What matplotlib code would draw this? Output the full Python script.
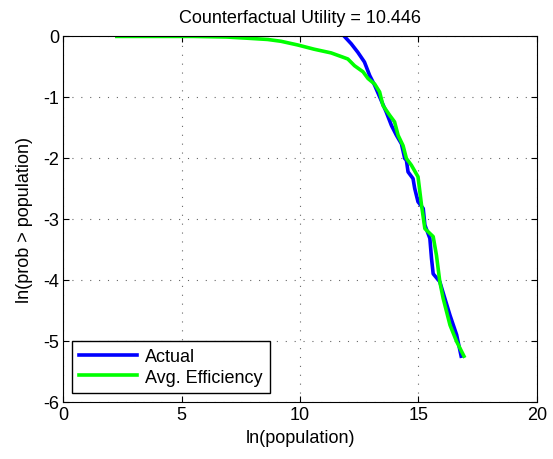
import numpy as np
import matplotlib
matplotlib.use('Agg')
import matplotlib.pyplot as plt

plt.rcParams['font.family'] = ['Liberation Sans', 'DejaVu Sans']
plt.rcParams['axes.unicode_minus'] = False

# Curva "Actual" (ln poblacion, ln prob)
actual_x = [11.85, 12.16, 12.44, 12.72, 12.94, 13.15, 13.36, 13.64, 13.86, 14.07,
            14.28, 14.42, 14.49, 14.56, 14.77, 14.84, 14.98, 15.20, 15.27, 15.48,
            15.55, 15.62, 15.90, 16.11, 16.33, 16.61, 16.80]
actual_y = [0.0, -0.13, -0.27, -0.43, -0.65, -0.81, -1.00, -1.25, -1.47, -1.63,
            -1.77, -2.01, -2.04, -2.23, -2.34, -2.50, -2.72, -2.83, -3.10, -3.32,
            -3.65, -3.90, -4.03, -4.30, -4.58, -4.90, -5.25]

# Curva "Avg. Efficiency"
eff_x = [2.27, 4.0, 5.5, 6.9, 7.8, 8.63, 9.2, 9.9, 10.6, 11.31, 11.81, 12.02, 12.30,
         12.66, 12.87, 13.15, 13.36, 13.50, 13.78, 13.99, 14.14, 14.35, 14.49,
         14.70, 14.98, 15.13, 15.27, 15.62, 15.76, 15.90, 16.04, 16.33, 16.61, 16.92]
eff_y = [-0.01, -0.01, -0.01, -0.02, -0.04, -0.06, -0.09, -0.15, -0.22, -0.28,
         -0.35, -0.38, -0.49, -0.59, -0.70, -0.79, -0.92, -1.14, -1.30, -1.41,
         -1.63, -1.80, -2.01, -2.12, -2.31, -2.78, -3.16, -3.29, -3.60, -4.03,
         -4.30, -4.74, -5.01, -5.25]

titulo = 'Counterfactual Utility = 10.446'

fig = plt.figure(figsize=(5.53, 4.6), dpi=100)
ax = fig.add_axes([0.114, 0.124, 0.857, 0.796])

ax.plot(actual_x, actual_y, color='#0000ff', lw=2.6, label='Actual')
ax.plot(eff_x, eff_y, color='#00ff00', lw=2.6, label='Avg. Efficiency')

ax.set_xlim(0, 20)
ax.set_ylim(-6, 0)
ax.set_xticks([0, 5, 10, 15, 20])
ax.set_yticks([-6, -5, -4, -3, -2, -1, 0])
ax.grid(True, linestyle=(0, (1, 7)), color='black', lw=0.8, alpha=0.6)
ax.tick_params(direction='in', labelsize=13, length=4, top=True, right=True, pad=3)

ax.set_title(titulo, fontsize=13, pad=10)
ax.set_xlabel('ln(population)', fontsize=13, labelpad=4)
ax.set_ylabel('ln(prob > population)', fontsize=13, labelpad=7)

leg = ax.legend(loc='lower left', fontsize=13, fancybox=False, framealpha=1,
                edgecolor='black', borderaxespad=0.5, handlelength=3.2,
                borderpad=0.4, labelspacing=0.2, handletextpad=0.45)
leg.get_frame().set_linewidth(1.0)

fig.savefig('out.png', dpi=100)
